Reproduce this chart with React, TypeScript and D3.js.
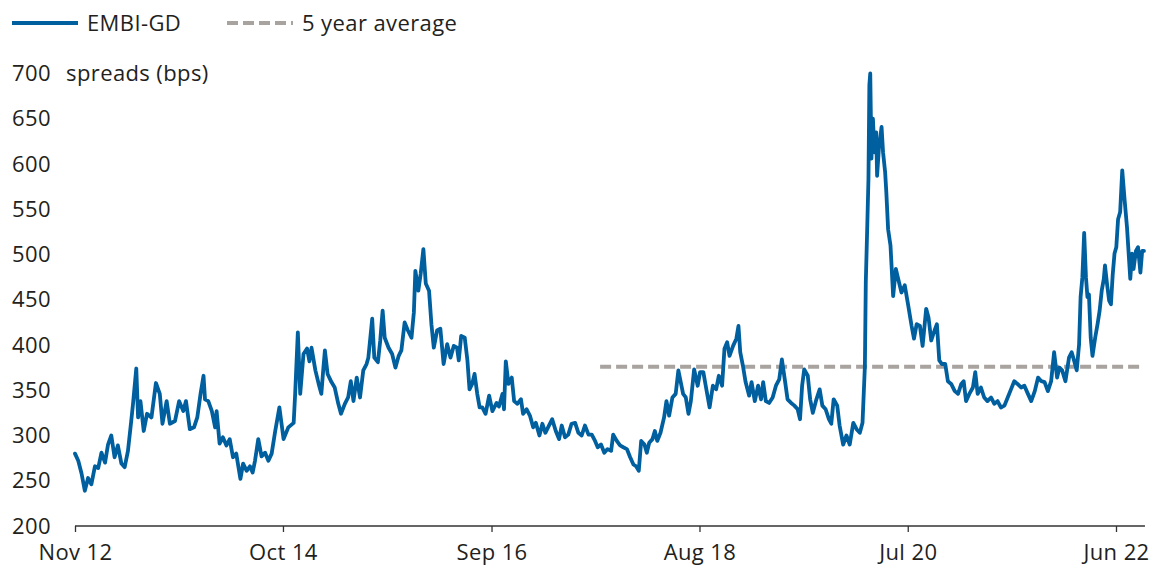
import React, { useEffect, useRef } from "react";
import * as d3 from "d3";

// EMBI-GD spread readings (bps), irregular sampling
const dates = [
  "2012-11-01", "2012-11-12", "2012-11-23", "2012-12-04", "2012-12-15", "2012-12-26", "2013-01-07", "2013-01-18",
  "2013-01-29", "2013-02-10", "2013-02-20", "2013-03-03", "2013-03-14", "2013-03-25", "2013-04-06", "2013-04-17",
  "2013-04-28", "2013-05-09", "2013-05-15", "2013-05-26", "2013-06-01", "2013-06-09", "2013-06-20", "2013-07-01",
  "2013-07-16", "2013-07-31", "2013-08-13", "2013-08-22", "2013-09-05", "2013-09-16", "2013-10-03", "2013-10-17",
  "2013-10-31", "2013-11-09", "2013-11-22", "2013-12-06", "2013-12-17", "2013-12-28", "2014-01-07", "2014-01-12",
  "2014-01-23", "2014-02-04", "2014-02-15", "2014-02-20", "2014-03-02", "2014-03-13", "2014-03-25", "2014-04-05",
  "2014-04-16", "2014-04-27", "2014-05-11", "2014-05-20", "2014-06-01", "2014-06-12", "2014-06-21", "2014-06-29",
  "2014-07-10", "2014-07-21", "2014-08-02", "2014-08-13", "2014-08-24", "2014-09-05", "2014-09-19", "2014-10-03",
  "2014-10-19", "2014-11-06", "2014-11-11", "2014-11-20", "2014-11-28", "2014-12-09", "2014-12-21", "2014-12-29",
  "2015-01-05", "2015-01-18", "2015-01-29", "2015-02-07", "2015-02-14", "2015-02-19", "2015-02-28", "2015-03-13",
  "2015-03-24", "2015-04-05", "2015-04-14", "2015-04-27", "2015-05-08", "2015-05-17", "2015-05-26", "2015-06-06",
  "2015-06-17", "2015-06-28", "2015-07-09", "2015-07-15", "2015-07-28", "2015-08-04", "2015-08-16", "2015-08-24",
  "2015-09-01", "2015-09-08", "2015-09-21", "2015-10-03", "2015-10-14", "2015-10-25", "2015-11-03", "2015-11-14",
  "2015-11-25", "2015-12-07", "2015-12-15", "2015-12-20", "2015-12-30", "2016-01-07", "2016-01-16", "2016-01-24",
  "2016-02-04", "2016-02-12", "2016-02-20", "2016-03-02", "2016-03-13", "2016-03-24", "2016-04-05", "2016-04-16",
  "2016-04-27", "2016-05-08", "2016-05-14", "2016-05-22", "2016-06-03", "2016-06-12", "2016-06-19", "2016-06-28",
  "2016-07-06", "2016-07-15", "2016-07-23", "2016-08-01", "2016-08-12", "2016-08-24", "2016-09-04", "2016-09-18",
  "2016-09-26", "2016-10-08", "2016-10-13", "2016-10-19", "2016-10-28", "2016-11-08", "2016-11-16", "2016-11-27",
  "2016-12-09", "2016-12-16", "2016-12-28", "2017-01-08", "2017-01-19", "2017-01-28", "2017-02-09", "2017-02-19",
  "2017-03-01", "2017-03-13", "2017-03-24", "2017-04-05", "2017-04-16", "2017-04-25", "2017-05-06", "2017-05-17",
  "2017-05-28", "2017-06-09", "2017-06-20", "2017-07-01", "2017-07-12", "2017-07-24", "2017-08-04", "2017-08-15",
  "2017-08-24", "2017-09-04", "2017-09-15", "2017-09-26", "2017-10-08", "2017-10-15", "2017-10-27", "2017-11-07",
  "2017-11-18", "2017-11-30", "2017-12-11", "2017-12-22", "2017-12-31", "2018-01-09", "2018-01-17", "2018-01-28",
  "2018-02-05", "2018-02-13", "2018-02-24", "2018-03-04", "2018-03-12", "2018-03-23", "2018-04-04", "2018-04-12",
  "2018-04-21", "2018-05-02", "2018-05-13", "2018-05-22", "2018-05-30", "2018-06-07", "2018-06-16", "2018-06-25",
  "2018-07-03", "2018-07-14", "2018-07-26", "2018-08-03", "2018-08-14", "2018-08-23", "2018-09-04", "2018-09-15",
  "2018-09-26", "2018-10-05", "2018-10-16", "2018-10-24", "2018-11-02", "2018-11-10", "2018-11-22", "2018-12-03",
  "2018-12-10", "2018-12-16", "2018-12-25", "2019-01-03", "2019-01-15", "2019-01-23", "2019-02-03", "2019-02-14",
  "2019-02-24", "2019-03-03", "2019-03-12", "2019-03-23", "2019-04-04", "2019-04-15", "2019-04-26", "2019-05-05",
  "2019-05-16", "2019-05-24", "2019-06-05", "2019-06-16", "2019-06-27", "2019-07-05", "2019-07-12", "2019-07-19",
  "2019-07-31", "2019-08-08", "2019-08-17", "2019-08-29", "2019-09-09", "2019-09-18", "2019-09-29", "2019-10-10",
  "2019-10-18", "2019-10-26", "2019-11-07", "2019-11-15", "2019-11-27", "2019-12-08", "2019-12-19", "2019-12-31",
  "2020-01-11", "2020-01-22", "2020-01-31", "2020-02-08", "2020-02-11", "2020-02-16", "2020-02-20", "2020-02-23",
  "2020-02-26", "2020-03-01", "2020-03-06", "2020-03-11", "2020-03-17", "2020-03-20", "2020-03-26", "2020-04-04",
  "2020-04-09", "2020-04-16", "2020-04-20", "2020-04-26", "2020-05-04", "2020-05-13", "2020-05-22", "2020-05-30",
  "2020-06-10", "2020-06-21", "2020-07-03", "2020-07-14", "2020-07-22", "2020-07-31", "2020-08-11", "2020-08-20",
  "2020-09-01", "2020-09-09", "2020-09-18", "2020-09-29", "2020-10-07", "2020-10-15", "2020-10-24", "2020-11-04",
  "2020-11-13", "2020-11-24", "2020-12-06", "2020-12-17", "2020-12-28", "2021-01-05", "2021-01-13", "2021-01-24",
  "2021-02-05", "2021-02-13", "2021-02-21", "2021-03-04", "2021-03-15", "2021-03-26", "2021-04-07", "2021-04-18",
  "2021-04-29", "2021-05-10", "2021-05-22", "2021-06-02", "2021-06-13", "2021-06-24", "2021-07-05", "2021-07-17",
  "2021-07-28", "2021-08-09", "2021-08-20", "2021-09-01", "2021-09-12", "2021-09-23", "2021-10-04", "2021-10-15",
  "2021-10-26", "2021-11-05", "2021-11-15", "2021-11-23", "2021-12-02", "2021-12-13", "2021-12-25", "2022-01-03",
  "2022-01-11", "2022-01-20", "2022-01-28", "2022-02-02", "2022-02-08", "2022-02-14", "2022-02-20", "2022-02-25",
  "2022-03-02", "2022-03-08", "2022-03-14", "2022-03-23", "2022-03-31", "2022-04-07", "2022-04-14", "2022-04-21",
  "2022-04-25", "2022-05-02", "2022-05-09", "2022-05-15", "2022-05-21", "2022-05-27", "2022-06-02", "2022-06-08",
  "2022-06-15", "2022-06-22", "2022-06-30", "2022-07-08", "2022-07-13", "2022-07-19", "2022-07-25", "2022-07-30",
  "2022-08-07", "2022-08-14", "2022-08-22", "2022-08-28", "2022-09-03",
];

const spreads = [
  280, 272, 258, 239, 253, 246, 266, 264, 281, 270, 290, 300, 276, 289, 269, 265,
  283, 316, 335, 374, 320, 338, 305, 324, 320, 358, 346, 313, 338, 313, 316, 338,
  327, 338, 307, 309, 320, 346, 366, 340, 338, 327, 309, 327, 291, 298, 289, 296,
  276, 280, 252, 269, 261, 266, 259, 272, 296, 277, 281, 272, 280, 305, 331, 296,
  309, 314, 346, 414, 346, 390, 396, 382, 397, 372, 357, 346, 375, 394, 368, 359,
  353, 335, 324, 335, 342, 360, 338, 364, 342, 372, 379, 386, 429, 386, 381, 405,
  438, 408, 397, 390, 375, 388, 394, 425, 416, 408, 436, 482, 460, 479, 506, 468,
  460, 423, 397, 416, 418, 379, 401, 386, 399, 397, 383, 410, 408, 383, 351, 357,
  368, 346, 331, 331, 324, 344, 327, 336, 332, 346, 329, 382, 357, 364, 338, 335,
  340, 324, 329, 322, 309, 314, 300, 313, 303, 311, 318, 305, 296, 311, 298, 301,
  313, 314, 303, 300, 311, 301, 301, 294, 287, 290, 281, 285, 283, 301, 294, 289,
  287, 285, 276, 268, 266, 261, 294, 290, 281, 292, 296, 305, 294, 303, 320, 338,
  322, 342, 346, 372, 359, 346, 342, 324, 338, 373, 355, 370, 370, 353, 331, 355,
  351, 366, 355, 396, 403, 388, 399, 407, 421, 392, 377, 359, 344, 359, 338, 355,
  340, 359, 338, 336, 342, 355, 362, 384, 359, 340, 336, 333, 329, 318, 355, 373,
  366, 340, 325, 340, 351, 333, 329, 318, 313, 340, 333, 311, 290, 300, 290, 314,
  307, 303, 314, 377, 469, 532, 584, 687, 700, 606, 650, 613, 635, 587, 617, 641,
  613, 591, 569, 528, 510, 454, 484, 473, 458, 466, 443, 421, 407, 423, 421, 399,
  440, 430, 405, 416, 423, 383, 379, 379, 360, 357, 349, 346, 357, 360, 338, 346,
  353, 370, 346, 353, 342, 338, 342, 335, 338, 331, 333, 342, 351, 360, 357, 353,
  355, 346, 338, 349, 364, 360, 359, 349, 360, 392, 364, 375, 372, 360, 386, 392,
  383, 372, 401, 453, 475, 524, 475, 453, 456, 408, 388, 408, 423, 438, 460, 473,
  488, 467, 449, 445, 478, 501, 508, 539, 547, 593, 560, 530, 504, 473, 501, 484,
  504, 508, 480, 504, 504,
];

// 5 year average
const averagePeriod = ["2017-09-01", "2022-09-03"];
const averageValue = 376;

const seriesNames = ["EMBI-GD", "5 year average"];
const yTicks = [200, 250, 300, 350, 400, 450, 500, 550, 600, 650, 700];
const xTickDates = ["2012-11-01", "2014-10-01", "2016-09-01", "2018-08-01", "2020-07-01", "2022-06-01"];

const BLUE = "#005f9e";
const GREY = "#a8a39f";
const TEXT = "#231f20";
const FONT = "'Open Sans', 'Noto Sans', sans-serif";
const FS = 22;
const LS = "0.4px";

const App = () => {
  const ref = useRef<SVGSVGElement>(null);

  useEffect(() => {
    const svg = d3.select(ref.current);
    svg.selectAll("*").remove();

    const parse = d3.timeParse("%Y-%m-%d");
    const data = dates.map((d, i) => ({ date: parse(d) as Date, value: spreads[i] }));
    const ticks = xTickDates.map((d) => parse(d) as Date);

    const x = d3.scaleTime().domain([ticks[0], ticks[ticks.length - 1]]).range([75, 1116]);
    const y = d3.scaleLinear().domain([200, 700]).range([526, 73.5]);

    const styleText = (sel: any) =>
      sel
        .attr("font-family", FONT)
        .attr("font-size", FS)
        .attr("letter-spacing", LS)
        .attr("fill", TEXT);

    // y axis labels
    const yAxis = svg
      .append("g")
      .attr("transform", "translate(57,0)")
      .call(d3.axisLeft(y).tickValues(yTicks).tickSize(0).tickPadding(6));
    yAxis.select(".domain").remove();
    styleText(yAxis.selectAll("text"));

    styleText(
      svg
        .append("text")
        .attr("x", 66)
        .attr("y", y(700))
        .attr("dy", "0.32em")
        .text("spreads (bps)")
    );

    // x axis
    const xAxis = svg
      .append("g")
      .attr("transform", `translate(0,${y(200)})`)
      .call(
        d3
          .axisBottom(x)
          .tickValues(ticks)
          .tickFormat(d3.timeFormat("%b %y") as any)
          .tickSize(6)
          .tickPadding(12)
      );
    xAxis.select(".domain").remove();
    xAxis.selectAll("line").attr("stroke", "#333").attr("stroke-width", 1.3);
    styleText(xAxis.selectAll("text"));
    xAxis
      .append("line")
      .attr("x1", x(data[0].date))
      .attr("x2", x(data[data.length - 1].date) + 1)
      .attr("stroke", "#333")
      .attr("stroke-width", 1.5);

    // average line
    const avg = averagePeriod.map((d) => parse(d) as Date);
    svg
      .append("line")
      .attr("x1", x(avg[0]))
      .attr("x2", x(avg[1]))
      .attr("y1", y(averageValue))
      .attr("y2", y(averageValue))
      .attr("stroke", GREY)
      .attr("stroke-width", 4)
      .attr("stroke-dasharray", "11,5");

    // spread line
    const line = d3
      .line<{ date: Date; value: number }>()
      .x((d) => x(d.date))
      .y((d) => y(d.value));
    svg
      .append("path")
      .datum(data)
      .attr("d", line)
      .attr("fill", "none")
      .attr("stroke", BLUE)
      .attr("stroke-width", 3.8)
      .attr("stroke-linejoin", "round")
      .attr("stroke-linecap", "round");

    // legend
    const legend = svg.append("g");
    legend
      .append("line")
      .attr("x1", 12)
      .attr("x2", 78)
      .attr("y1", 23)
      .attr("y2", 23)
      .attr("stroke", BLUE)
      .attr("stroke-width", 3.8);
    styleText(legend.append("text").attr("x", 87).attr("y", 31).text(seriesNames[0]));
    legend
      .append("line")
      .attr("x1", 227)
      .attr("x2", 293)
      .attr("y1", 23)
      .attr("y2", 23)
      .attr("stroke", GREY)
      .attr("stroke-width", 4)
      .attr("stroke-dasharray", "11,5");
    styleText(legend.append("text").attr("x", 302).attr("y", 31).text(seriesNames[1]));
  }, []);

  return (
    <svg
      ref={ref}
      width={1152}
      height={567}
      style={{ position: "absolute", left: 0, top: 0, background: "#fff" }}
    />
  );
};

export default App;
